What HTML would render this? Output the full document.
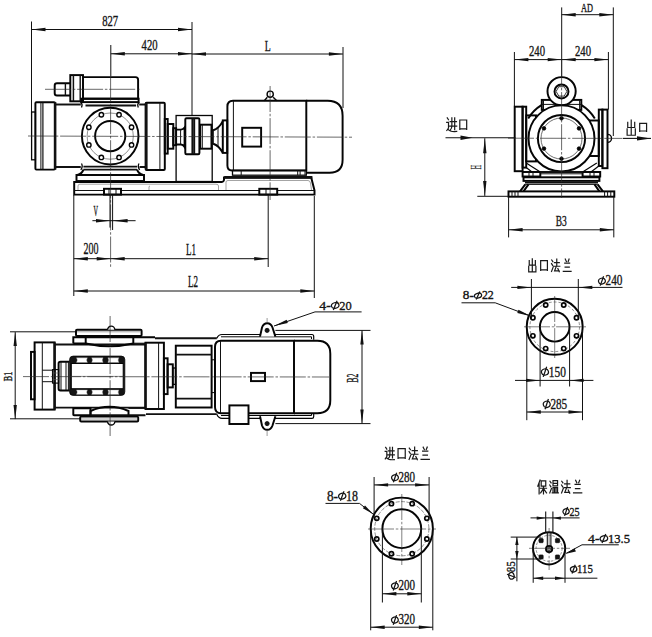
<!DOCTYPE html>
<html><head><meta charset="utf-8"><style>
html,body{margin:0;padding:0;background:#fff;width:652px;height:637px;overflow:hidden}
svg{display:block}
text{font-family:"Liberation Serif",serif;fill:#151515;stroke:#151515;stroke-width:0.35}
</style></head><body>
<svg width="652" height="637" viewBox="0 0 652 637">
<rect width="652" height="637" fill="#fff"/>
<line x1="31.5" y1="21.5" x2="31.5" y2="112" stroke="#111" stroke-width="1.0"/>
<line x1="192" y1="22" x2="192" y2="115.6" stroke="#111" stroke-width="1.0"/>
<line x1="110.8" y1="45" x2="110.8" y2="76" stroke="#111" stroke-width="1.0"/>
<line x1="343" y1="47" x2="343" y2="108" stroke="#111" stroke-width="1.0"/>
<line x1="31.5" y1="29.5" x2="192" y2="29.5" stroke="#111" stroke-width="1.0"/>
<path d="M31.50 29.50 L45.50 27.80 L45.50 31.20 Z" fill="#111"/>
<path d="M192.00 29.50 L178.00 31.20 L178.00 27.80 Z" fill="#111"/>
<line x1="110.8" y1="53.8" x2="192" y2="53.8" stroke="#111" stroke-width="1.0"/>
<path d="M110.80 53.80 L124.80 52.10 L124.80 55.50 Z" fill="#111"/>
<path d="M192.00 53.80 L178.00 55.50 L178.00 52.10 Z" fill="#111"/>
<line x1="192" y1="54" x2="342.9" y2="54" stroke="#111" stroke-width="1.0"/>
<path d="M192.00 54.00 L206.00 52.30 L206.00 55.70 Z" fill="#111"/>
<path d="M342.90 54.00 L328.90 55.70 L328.90 52.30 Z" fill="#111"/>
<g>
<text x="102.20" y="25.80" font-size="14.5" textLength="16.00" lengthAdjust="spacingAndGlyphs">827</text>
</g>
<g>
<text x="141.60" y="50.30" font-size="14.5" textLength="16.00" lengthAdjust="spacingAndGlyphs">420</text>
</g>
<g>
<text x="264.70" y="51.00" font-size="15.5" textLength="6.00" lengthAdjust="spacingAndGlyphs">L</text>
</g>
<rect x="31.6" y="112" width="3.80" height="47.80" rx="0" stroke="#050505" stroke-width="1.3" fill="none"/>
<rect x="35.4" y="102.2" width="19.60" height="67.40" rx="1" stroke="#050505" stroke-width="1.95" fill="none"/>
<line x1="40.9" y1="102.2" x2="40.9" y2="169.6" stroke="#111" stroke-width="1.0"/>
<line x1="42.9" y1="102.2" x2="42.9" y2="169.6" stroke="#111" stroke-width="1.2"/>
<line x1="55.1" y1="102.2" x2="55.1" y2="169.6" stroke="#111" stroke-width="2.6"/>
<line x1="55.6" y1="104.5" x2="80.8" y2="104.5" stroke="#111" stroke-width="1.95"/>
<line x1="139.2" y1="104.5" x2="146" y2="104.5" stroke="#111" stroke-width="1.95"/>
<line x1="55.6" y1="167" x2="80.8" y2="167" stroke="#111" stroke-width="1.95"/>
<line x1="139.5" y1="167" x2="146" y2="167" stroke="#111" stroke-width="1.95"/>
<rect x="145.6" y="102.8" width="19.20" height="67.10" rx="1" stroke="#050505" stroke-width="1.95" fill="none"/>
<line x1="159.9" y1="102.8" x2="159.9" y2="169.9" stroke="#111" stroke-width="1.0"/>
<line x1="146.3" y1="102.8" x2="146.3" y2="169.9" stroke="#111" stroke-width="2.6"/>
<path d="M70.3 83.2 H57 Q54.7 83.2 54.7 85.5 V93.2 Q54.7 95.5 57 95.5 H70.3" stroke="#050505" stroke-width="1.95" fill="none"/>
<line x1="65.4" y1="83.2" x2="65.4" y2="95.5" stroke="#111" stroke-width="1.4"/>
<rect x="70.3" y="75.1" width="12.70" height="26.20" rx="0" stroke="#050505" stroke-width="1.95" fill="none"/>
<line x1="73.4" y1="75.1" x2="73.4" y2="101.3" stroke="#111" stroke-width="1.5"/>
<line x1="80.2" y1="75.1" x2="80.2" y2="101.3" stroke="#111" stroke-width="1.4"/>
<path d="M83 77.1 H135.5 Q138.1 77.1 138.1 79.7 V98.7 H83" stroke="#050505" stroke-width="1.95" fill="none"/>
<line x1="45" y1="89.3" x2="140" y2="89.3" stroke="#2a2a2a" stroke-width="0.7" stroke-dasharray="26 1.8 2.5 1.8"/>
<rect x="81.3" y="98.7" width="57.30" height="3.40" rx="0" stroke="#050505" stroke-width="1.95" fill="none"/>
<path d="M80.5 102.4 Q83 104 81.5 107.4" stroke="#050505" stroke-width="1.3" fill="none"/>
<path d="M139.3 102.4 Q136.8 104 138.3 107.4" stroke="#050505" stroke-width="1.3" fill="none"/>
<line x1="85.5" y1="105.5" x2="136.1" y2="105.5" stroke="#111" stroke-width="1.95"/>
<circle cx="110.2" cy="136.1" r="28.3" stroke="#050505" stroke-width="1.95" fill="none"/>
<circle cx="110.2" cy="136.1" r="23.1" stroke="#444" stroke-width="0.6" fill="none"/>
<circle cx="110.2" cy="136.1" r="15.1" stroke="#050505" stroke-width="1.95" fill="none"/>
<circle cx="119.04" cy="114.76" r="2.2" stroke="#050505" stroke-width="1.4" fill="#fff"/>
<circle cx="131.54" cy="127.26" r="2.2" stroke="#050505" stroke-width="1.4" fill="#fff"/>
<circle cx="131.54" cy="144.94" r="2.2" stroke="#050505" stroke-width="1.4" fill="#fff"/>
<circle cx="119.04" cy="157.44" r="2.2" stroke="#050505" stroke-width="1.4" fill="#fff"/>
<circle cx="101.36" cy="157.44" r="2.2" stroke="#050505" stroke-width="1.4" fill="#fff"/>
<circle cx="88.86" cy="144.94" r="2.2" stroke="#050505" stroke-width="1.4" fill="#fff"/>
<circle cx="88.86" cy="127.26" r="2.2" stroke="#050505" stroke-width="1.4" fill="#fff"/>
<circle cx="101.36" cy="114.76" r="2.2" stroke="#050505" stroke-width="1.4" fill="#fff"/>
<path d="M81.5 163.5 Q83.2 166.5 80.8 169.8" stroke="#050505" stroke-width="1.3" fill="none"/>
<path d="M139 163.5 Q137.3 166.5 139.7 169.8" stroke="#050505" stroke-width="1.3" fill="none"/>
<line x1="83.4" y1="166.6" x2="137.1" y2="166.6" stroke="#111" stroke-width="1.95"/>
<line x1="83.4" y1="169.6" x2="137.1" y2="169.6" stroke="#111" stroke-width="1.95"/>
<path d="M83.4 169.6 Q82 174 77.3 175" stroke="#050505" stroke-width="1.95" fill="none"/>
<path d="M137.1 169.6 Q138.5 174 143.2 175" stroke="#050505" stroke-width="1.95" fill="none"/>
<rect x="76.5" y="175" width="67.50" height="6.00" rx="0" stroke="#050505" stroke-width="1.95" fill="none"/>
<line x1="76.5" y1="181.2" x2="144" y2="181.2" stroke="#111" stroke-width="2.6"/>
<path d="M74.2 182 H222 Q223.5 182 224 180 V177.5 H311.2 L314.5 190.4 V194.6 H74.2 Z" stroke="#050505" stroke-width="1.95" fill="none"/>
<line x1="224.2" y1="177.4" x2="312.4" y2="177.4" stroke="#111" stroke-width="2.6"/>
<line x1="74.2" y1="190.5" x2="104" y2="190.5" stroke="#111" stroke-width="1.0"/>
<line x1="121" y1="190.5" x2="259.3" y2="190.5" stroke="#111" stroke-width="1.0"/>
<line x1="277.2" y1="190.5" x2="314.5" y2="190.5" stroke="#111" stroke-width="1.0"/>
<path d="M78 190 V186 Q78 184.2 80 184.2 H216 Q218.5 184.2 218.5 186 V190" stroke="#666" stroke-width="0.6" fill="none"/>
<path d="M149 190 V187 Q149 186 150 186" stroke="#666" stroke-width="0.6" fill="none"/>
<path d="M226 190 V182 Q226 180.5 228 180.5 H308 Q310 180.5 310.5 183 L311.5 190" stroke="#666" stroke-width="0.6" fill="none"/>
<rect x="104" y="188.8" width="17.00" height="5.80" rx="0" stroke="#050505" stroke-width="1.95" fill="none"/>
<line x1="109" y1="189" x2="109" y2="195.2" stroke="#111" stroke-width="1.0"/>
<line x1="116" y1="189" x2="116" y2="195.2" stroke="#111" stroke-width="1.0"/>
<rect x="259.3" y="188.8" width="17.90" height="5.80" rx="0" stroke="#050505" stroke-width="1.95" fill="none"/>
<line x1="266" y1="189" x2="266" y2="195.2" stroke="#111" stroke-width="1.0"/>
<rect x="164.8" y="119" width="2.90" height="34.60" rx="0" stroke="#050505" stroke-width="1.95" fill="none"/>
<rect x="167.7" y="124" width="5.60" height="24.70" rx="0" stroke="#050505" stroke-width="1.95" fill="none"/>
<rect x="173.3" y="128.2" width="2.80" height="17.00" rx="0" stroke="#050505" stroke-width="1.95" fill="none"/>
<rect x="176.1" y="115.5" width="36.10" height="66.00" rx="0" stroke="#050505" stroke-width="1.3" fill="none"/>
<path d="M176.1 129.6 H181 Q183 129.6 184.6 127.5 V147 Q183 144.4 181 144.4 H176.1" stroke="#050505" stroke-width="1.95" fill="none"/>
<line x1="180.6" y1="129.6" x2="180.6" y2="144.4" stroke="#111" stroke-width="1.0"/>
<rect x="185.3" y="118.3" width="14.10" height="36.00" rx="1.2" stroke="#050505" stroke-width="1.95" fill="none"/>
<line x1="192.4" y1="118.3" x2="192.4" y2="154.3" stroke="#111" stroke-width="1.95"/>
<line x1="194.2" y1="118.3" x2="194.2" y2="154.3" stroke="#111" stroke-width="1.95"/>
<rect x="200.2" y="124.7" width="11.30" height="24.00" rx="0" stroke="#050505" stroke-width="1.95" fill="none"/>
<line x1="202.3" y1="124.7" x2="202.3" y2="148.7" stroke="#111" stroke-width="1.0"/>
<line x1="199.4" y1="126" x2="200.2" y2="126" stroke="#111" stroke-width="1.0"/>
<line x1="199.4" y1="147.4" x2="200.2" y2="147.4" stroke="#111" stroke-width="1.0"/>
<rect x="211.5" y="130.3" width="1.70" height="13.40" rx="0" stroke="#050505" stroke-width="1.2" fill="none"/>
<path d="M213.2 130.3 Q219 128.5 222.8 121.1 M213.2 143.7 Q219 145.5 222.8 152.9" stroke="#050505" stroke-width="1.95" fill="none"/>
<line x1="218" y1="127.8" x2="218" y2="146.2" stroke="#111" stroke-width="1.0"/>
<rect x="222.8" y="120.4" width="4.40" height="32.50" rx="0" stroke="#050505" stroke-width="1.95" fill="none"/>
<path d="M306.3 100.8 H233 Q227.4 100.8 227.4 106.5 V165.5 Q227.4 170.4 232 170.4 H306.3 Z" stroke="#050505" stroke-width="1.95" fill="none"/>
<line x1="233.4" y1="101" x2="233.4" y2="170.4" stroke="#111" stroke-width="1.0"/>
<path d="M306.1 100.7 H327.6 Q342.6 100.7 342.6 115.7 V159.7 Q342.6 172.7 329.6 172.7 H306.1" stroke="#050505" stroke-width="1.95" fill="none"/>
<rect x="242.2" y="127.8" width="18.90" height="18.80" rx="0" stroke="#050505" stroke-width="1.95" fill="none"/>
<circle cx="270.2" cy="94.2" r="3.1" stroke="#050505" stroke-width="1.4" fill="none"/>
<path d="M264.3 100.7 L267.3 97.2 M273.2 97.2 L276.8 100.7" stroke="#050505" stroke-width="1.4" fill="none"/>
<rect x="232.5" y="170.4" width="73.80" height="4.80" rx="0" stroke="#050505" stroke-width="1.3" fill="none"/>
<line x1="297.7" y1="170.4" x2="297.7" y2="175.2" stroke="#111" stroke-width="1.0"/>
<line x1="300.1" y1="170.4" x2="300.1" y2="175.2" stroke="#111" stroke-width="1.0"/>
<line x1="305" y1="170.4" x2="305" y2="175.2" stroke="#111" stroke-width="1.0"/>
<line x1="241.2" y1="170.4" x2="241.2" y2="175.2" stroke="#111" stroke-width="1.0"/>
<line x1="28" y1="136" x2="352" y2="137.2" stroke="#2a2a2a" stroke-width="0.7" stroke-dasharray="26 1.8 2.5 1.8"/>
<line x1="110.6" y1="76" x2="110.6" y2="268" stroke="#2a2a2a" stroke-width="0.7" stroke-dasharray="26 1.8 2.5 1.8"/>
<line x1="270.1" y1="86" x2="270.1" y2="200" stroke="#2a2a2a" stroke-width="0.7" stroke-dasharray="26 1.8 2.5 1.8"/>
<line x1="110" y1="195" x2="110" y2="227.6" stroke="#111" stroke-width="1.0"/>
<line x1="112.6" y1="195" x2="112.6" y2="230" stroke="#111" stroke-width="1.0"/>
<line x1="92.4" y1="220.7" x2="135.6" y2="220.7" stroke="#111" stroke-width="1.0"/>
<path d="M110.00 220.70 L96.00 222.40 L96.00 219.00 Z" fill="#111"/>
<path d="M112.60 220.70 L127.60 219.00 L127.60 222.40 Z" fill="#111"/>
<g>
<text x="93.55" y="215.60" font-size="13.6" textLength="4.50" lengthAdjust="spacingAndGlyphs">V</text>
</g>
<line x1="73.8" y1="195" x2="73.8" y2="296" stroke="#111" stroke-width="1.0"/>
<line x1="314.3" y1="196" x2="314.3" y2="298" stroke="#111" stroke-width="1.0"/>
<line x1="268.2" y1="195" x2="268.2" y2="267" stroke="#111" stroke-width="1.0"/>
<line x1="73.8" y1="258.7" x2="110.7" y2="258.7" stroke="#111" stroke-width="1.0"/>
<path d="M73.80 258.70 L87.80 257.00 L87.80 260.40 Z" fill="#111"/>
<path d="M110.70 258.70 L96.70 260.40 L96.70 257.00 Z" fill="#111"/>
<line x1="110.7" y1="258.7" x2="268.2" y2="258.7" stroke="#111" stroke-width="1.0"/>
<path d="M110.70 258.70 L124.70 257.00 L124.70 260.40 Z" fill="#111"/>
<path d="M268.20 258.70 L254.20 260.40 L254.20 257.00 Z" fill="#111"/>
<line x1="73.8" y1="291" x2="314.3" y2="291" stroke="#111" stroke-width="1.0"/>
<path d="M73.80 291.00 L87.80 289.30 L87.80 292.70 Z" fill="#111"/>
<path d="M314.30 291.00 L300.30 292.70 L300.30 289.30 Z" fill="#111"/>
<g>
<text x="83.50" y="254.40" font-size="15.8" textLength="15.00" lengthAdjust="spacingAndGlyphs">200</text>
</g>
<g>
<text x="186.00" y="255.00" font-size="16.3" textLength="10.00" lengthAdjust="spacingAndGlyphs">L1</text>
</g>
<g>
<text x="188.00" y="286.60" font-size="15.7" textLength="10.00" lengthAdjust="spacingAndGlyphs">L2</text>
</g>
<line x1="561.7" y1="7.4" x2="561.7" y2="77" stroke="#111" stroke-width="1.0"/>
<line x1="613.3" y1="7.4" x2="613.3" y2="136" stroke="#111" stroke-width="1.0"/>
<line x1="561.7" y1="14.7" x2="613.3" y2="14.7" stroke="#111" stroke-width="1.0"/>
<path d="M561.70 14.70 L575.70 13.00 L575.70 16.40 Z" fill="#111"/>
<path d="M613.30 14.70 L599.30 16.40 L599.30 13.00 Z" fill="#111"/>
<g>
<text x="581.00" y="11.50" font-size="12.6" textLength="12.00" lengthAdjust="spacingAndGlyphs">AD</text>
</g>
<line x1="514.4" y1="52" x2="514.4" y2="106" stroke="#111" stroke-width="1.0"/>
<line x1="608.4" y1="52" x2="608.4" y2="109.5" stroke="#111" stroke-width="1.0"/>
<line x1="514.4" y1="59.6" x2="561.7" y2="59.6" stroke="#111" stroke-width="1.0"/>
<path d="M514.40 59.60 L528.40 57.90 L528.40 61.30 Z" fill="#111"/>
<path d="M561.70 59.60 L547.70 61.30 L547.70 57.90 Z" fill="#111"/>
<line x1="561.7" y1="59.6" x2="608.4" y2="59.6" stroke="#111" stroke-width="1.0"/>
<path d="M561.70 59.60 L575.70 57.90 L575.70 61.30 Z" fill="#111"/>
<path d="M608.40 59.60 L594.40 61.30 L594.40 57.90 Z" fill="#111"/>
<g>
<text x="529.00" y="56.20" font-size="14.2" textLength="16.00" lengthAdjust="spacingAndGlyphs">240</text>
</g>
<g>
<text x="575.00" y="56.20" font-size="14.2" textLength="16.00" lengthAdjust="spacingAndGlyphs">240</text>
</g>
<path d="M528.2 118.6 A38.6 38.6 0 0 1 594.8 118.6" stroke="#050505" stroke-width="1.95" fill="none"/>
<rect x="541.8" y="99.9" width="39.50" height="10.00" rx="0" stroke="#050505" stroke-width="1.95" fill="#fff"/>
<line x1="541.8" y1="104.4" x2="581.3" y2="104.4" stroke="#111" stroke-width="1.0"/>
<line x1="543.5" y1="99.9" x2="543.5" y2="109.9" stroke="#111" stroke-width="1.0"/>
<line x1="579.6" y1="99.9" x2="579.6" y2="109.9" stroke="#111" stroke-width="1.0"/>
<circle cx="561.6" cy="91.2" r="14.1" stroke="#050505" stroke-width="1.95" fill="#fff"/>
<circle cx="561.5" cy="91.4" r="7" stroke="#050505" stroke-width="1.95" fill="none"/>
<path d="M558.8 86.7 L564.2 86.7 L566.9 91.4 L564.2 96.1 L558.8 96.1 L556.1 91.4 Z" stroke="#050505" stroke-width="0.8" fill="none"/>
<rect x="514.7" y="106.7" width="7.90" height="64.50" rx="0" stroke="#050505" stroke-width="1.95" fill="none"/>
<rect x="522.6" y="106.7" width="3.60" height="60.90" rx="0" stroke="#050505" stroke-width="1.95" fill="none"/>
<rect x="526.2" y="115.4" width="9.80" height="46.00" rx="0" stroke="#050505" stroke-width="1.95" fill="none"/>
<rect x="602.4" y="109.6" width="5.10" height="58.60" rx="0" stroke="#050505" stroke-width="1.95" fill="none"/>
<rect x="598.8" y="109.6" width="3.60" height="56.40" rx="0" stroke="#050505" stroke-width="1.95" fill="none"/>
<rect x="588" y="120.5" width="10.80" height="35.50" rx="0" stroke="#050505" stroke-width="1.95" fill="none"/>
<path d="M607.5 134.4 A4 4 0 0 1 607.5 142.4" stroke="#050505" stroke-width="1.4" fill="none"/>
<circle cx="561.5" cy="138.4" r="33" stroke="#050505" stroke-width="1.95" fill="#fff"/>
<circle cx="561.5" cy="138.5" r="23.6" stroke="#050505" stroke-width="1.95" fill="none"/>
<circle cx="561.5" cy="138.5" r="20.5" stroke="#333" stroke-width="0.7" fill="none"/>
<circle cx="561.5" cy="118.3" r="1.8" stroke="#050505" stroke-width="0.8" fill="#050505"/>
<circle cx="578.99" cy="128.4" r="1.8" stroke="#050505" stroke-width="0.8" fill="#050505"/>
<circle cx="578.99" cy="148.6" r="1.8" stroke="#050505" stroke-width="0.8" fill="#050505"/>
<circle cx="561.5" cy="158.7" r="1.8" stroke="#050505" stroke-width="0.8" fill="#050505"/>
<circle cx="544.01" cy="148.6" r="1.8" stroke="#050505" stroke-width="0.8" fill="#050505"/>
<circle cx="544.01" cy="128.4" r="1.8" stroke="#050505" stroke-width="0.8" fill="#050505"/>
<path d="M526.2 163 L540.3 172 M526.2 167.6 L532 172" stroke="#050505" stroke-width="1.2" fill="none"/>
<path d="M596.8 163 L582.6 172 M598.8 166 L591 172" stroke="#050505" stroke-width="1.2" fill="none"/>
<rect x="522.6" y="172" width="17.70" height="4.50" rx="0" stroke="#050505" stroke-width="1.95" fill="none"/>
<rect x="582.6" y="172" width="17.60" height="4.50" rx="0" stroke="#050505" stroke-width="1.95" fill="none"/>
<line x1="529" y1="172" x2="529" y2="176.5" stroke="#111" stroke-width="1.0"/>
<line x1="533" y1="172" x2="533" y2="176.5" stroke="#111" stroke-width="1.0"/>
<line x1="590" y1="172" x2="590" y2="176.5" stroke="#111" stroke-width="1.0"/>
<line x1="594" y1="172" x2="594" y2="176.5" stroke="#111" stroke-width="1.0"/>
<line x1="540.3" y1="172" x2="582.6" y2="172" stroke="#111" stroke-width="1.95"/>
<line x1="540.3" y1="173.8" x2="582.6" y2="173.8" stroke="#111" stroke-width="1.0"/>
<rect x="523.5" y="177.3" width="75.90" height="3.60" rx="0" stroke="#050505" stroke-width="1.95" fill="none"/>
<line x1="525" y1="182.6" x2="598" y2="182.6" stroke="#111" stroke-width="1.95"/>
<line x1="525.3" y1="184.4" x2="597.6" y2="184.4" stroke="#111" stroke-width="1.0"/>
<path d="M520 191.4 L525.3 184.4 M523.5 191.4 L528.5 184.4 M602.9 191.4 L597.6 184.4 M599.4 191.4 L594.5 184.4" stroke="#050505" stroke-width="1.95" fill="none"/>
<rect x="508.5" y="191.4" width="105.80" height="5.30" rx="0" stroke="#050505" stroke-width="1.95" fill="none"/>
<line x1="512" y1="191.4" x2="512" y2="196.7" stroke="#111" stroke-width="1.0"/>
<line x1="515" y1="191.4" x2="515" y2="196.7" stroke="#111" stroke-width="1.0"/>
<line x1="518" y1="191.4" x2="518" y2="196.7" stroke="#111" stroke-width="1.0"/>
<line x1="604.6" y1="191.4" x2="604.6" y2="196.7" stroke="#111" stroke-width="1.0"/>
<line x1="607.6" y1="191.4" x2="607.6" y2="196.7" stroke="#111" stroke-width="1.0"/>
<line x1="610.8" y1="191.4" x2="610.8" y2="196.7" stroke="#111" stroke-width="1.0"/>
<line x1="508" y1="138.2" x2="622" y2="138.4" stroke="#2a2a2a" stroke-width="0.7" stroke-dasharray="26 1.8 2.5 1.8"/>
<line x1="561.6" y1="60" x2="561.6" y2="198" stroke="#2a2a2a" stroke-width="0.7" stroke-dasharray="26 1.8 2.5 1.8"/>
<line x1="484.8" y1="138.2" x2="484.8" y2="195.9" stroke="#111" stroke-width="1.0"/>
<path d="M484.80 138.20 L486.50 153.20 L483.10 153.20 Z" fill="#111"/>
<path d="M484.80 195.90 L483.10 180.90 L486.50 180.90 Z" fill="#111"/>
<line x1="477.3" y1="196.3" x2="508.6" y2="196.3" stroke="#111" stroke-width="1.0"/>
<g transform="translate(476 167.1) rotate(-90)">
<g>
<text x="-2.10" y="4.80" font-size="14.2" textLength="4.20" lengthAdjust="spacingAndGlyphs">H</text>
</g>
</g>
<line x1="445.5" y1="137.8" x2="515.4" y2="137.8" stroke="#111" stroke-width="1.1"/>
<path d="M472.50 137.80 L460.50 140.00 L460.50 135.60 Z" fill="#111"/>
<g stroke="#1a1a1a" stroke-width="1.2" fill="none" stroke-linecap="square"><path transform="translate(446.40 116.60) scale(1.050 1.580)" d="M0.8 0.8 L2 2 M0.3 3.6 H2 V7.2 L0.4 8.8 M1.6 8 Q3.5 9.8 9.8 9.4 M3.6 3.2 H9.6 M3.2 6 H9.8 M5.2 0.8 V6 Q5.2 7.5 3.8 8.4 M7.9 0.8 V8.2" vector-effect="non-scaling-stroke"/></g>
<g stroke="#1a1a1a" stroke-width="1.2" fill="none" stroke-linecap="square"><path transform="translate(458.50 117.70) scale(0.920 1.360)" d="M1.4 1.7 V8.6 M1.4 1.7 H8.9 V8.6 M1.4 8.2 H8.9" vector-effect="non-scaling-stroke"/></g>
<line x1="622.7" y1="138.4" x2="651" y2="138.4" stroke="#111" stroke-width="1.1"/>
<path d="M651.00 138.40 L637.00 140.60 L637.00 136.20 Z" fill="#111"/>
<g stroke="#1a1a1a" stroke-width="1.2" fill="none" stroke-linecap="square"><path transform="translate(626.10 119.70) scale(1.025 1.620)" d="M5 0.3 V9.3 M1.6 1.6 V4.8 H8.4 V1.6 M1 5.6 V9.6 H9 V5.6" vector-effect="non-scaling-stroke"/></g>
<g stroke="#1a1a1a" stroke-width="1.2" fill="none" stroke-linecap="square"><path transform="translate(638.40 121.40) scale(0.920 1.170)" d="M1.4 1.7 V8.6 M1.4 1.7 H8.9 V8.6 M1.4 8.2 H8.9" vector-effect="non-scaling-stroke"/></g>
<line x1="508.6" y1="196.5" x2="508.6" y2="237.4" stroke="#111" stroke-width="1.0"/>
<line x1="613.8" y1="196.5" x2="613.8" y2="237.4" stroke="#111" stroke-width="1.0"/>
<line x1="508.6" y1="229.8" x2="613.8" y2="229.8" stroke="#111" stroke-width="1.0"/>
<path d="M508.60 229.80 L522.60 228.10 L522.60 231.50 Z" fill="#111"/>
<path d="M613.80 229.80 L599.80 231.50 L599.80 228.10 Z" fill="#111"/>
<g>
<text x="555.70" y="225.50" font-size="13.6" textLength="11.00" lengthAdjust="spacingAndGlyphs">B3</text>
</g>
<line x1="15.2" y1="332.1" x2="15.2" y2="419.1" stroke="#111" stroke-width="1.0"/>
<path d="M15.20 332.10 L16.90 346.10 L13.50 346.10 Z" fill="#111"/>
<path d="M15.20 419.10 L13.50 405.10 L16.90 405.10 Z" fill="#111"/>
<line x1="10" y1="331.8" x2="76" y2="331.8" stroke="#111" stroke-width="1.0"/>
<line x1="10" y1="418.8" x2="80.2" y2="418.8" stroke="#111" stroke-width="1.0"/>
<g transform="translate(7.7 376.5) rotate(-90)">
<g>
<text x="-4.75" y="4.30" font-size="12.7" textLength="9.50" lengthAdjust="spacingAndGlyphs">B1</text>
</g>
</g>
<rect x="31" y="351.9" width="3.60" height="47.40" rx="0" stroke="#050505" stroke-width="1.95" fill="none"/>
<rect x="34.6" y="342.4" width="20.00" height="67.20" rx="0" stroke="#050505" stroke-width="1.95" fill="none"/>
<line x1="42.3" y1="342.4" x2="42.3" y2="409.6" stroke="#111" stroke-width="1.0"/>
<line x1="54.6" y1="342.4" x2="54.6" y2="409.6" stroke="#111" stroke-width="2.4"/>
<line x1="54.6" y1="344.4" x2="145.5" y2="344.4" stroke="#111" stroke-width="1.95"/>
<line x1="54.6" y1="407.6" x2="145.5" y2="407.6" stroke="#111" stroke-width="1.95"/>
<rect x="145.5" y="342.7" width="18.40" height="66.30" rx="0" stroke="#050505" stroke-width="1.95" fill="none"/>
<line x1="145.5" y1="342.7" x2="145.5" y2="409" stroke="#111" stroke-width="2.4"/>
<line x1="158.6" y1="342.7" x2="158.6" y2="409" stroke="#111" stroke-width="1.0"/>
<rect x="163.9" y="358.3" width="3.70" height="35.80" rx="0" stroke="#050505" stroke-width="1.95" fill="none"/>
<rect x="167.6" y="364.3" width="5.20" height="23.10" rx="0" stroke="#050505" stroke-width="1.95" fill="none"/>
<rect x="172.8" y="368" width="2.70" height="16.40" rx="0" stroke="#050505" stroke-width="1.3" fill="none"/>
<rect x="76" y="329.7" width="65.60" height="6.30" rx="1" stroke="#050505" stroke-width="1.95" fill="none"/>
<line x1="77" y1="331.8" x2="140.6" y2="331.8" stroke="#666" stroke-width="0.6"/>
<path d="M107.6 329.7 A3.6 3.6 0 0 1 114.8 329.7" stroke="#050505" stroke-width="1.4" fill="#fff"/>
<path d="M73.3 343.5 V337.3 H155" stroke="#050505" stroke-width="1.95" fill="none"/>
<path d="M85.7 337.3 V343.5 H73.3" stroke="#050505" stroke-width="1.95" fill="none"/>
<path d="M85.7 343.5 Q109.5 349 133.3 343.5 V337.3" stroke="#050505" stroke-width="1.95" fill="none"/>
<line x1="133.3" y1="343.3" x2="145.5" y2="343.3" stroke="#111" stroke-width="1.2"/>
<path d="M73.3 408.3 V414.8 Q73.3 415.2 74 415.2 H90.5 V408.3 Z" stroke="#050505" stroke-width="1.95" fill="none"/>
<path d="M90.5 415.2 V411 Q109.5 402.5 128.5 411 V415.2" stroke="#050505" stroke-width="1.95" fill="none"/>
<line x1="90.5" y1="415.2" x2="145.5" y2="415.2" stroke="#111" stroke-width="1.95"/>
<line x1="128.5" y1="408.3" x2="145.5" y2="408.3" stroke="#111" stroke-width="1.2"/>
<rect x="80.2" y="416.6" width="58.00" height="4.80" rx="1" stroke="#050505" stroke-width="1.95" fill="none"/>
<line x1="81" y1="419" x2="137.5" y2="419" stroke="#666" stroke-width="0.6"/>
<path d="M107.6 421.4 A3.6 3.6 0 0 0 114.8 421.4" stroke="#050505" stroke-width="1.4" fill="#fff"/>
<line x1="155" y1="338.2" x2="216.8" y2="338.2" stroke="#111" stroke-width="1.95"/>
<path d="M216.8 338.2 Q218.5 334.5 222 334.5 H312 Q313.7 334.5 313.7 336.5 V339.7" stroke="#050505" stroke-width="1.2" fill="none"/>
<path d="M221 336.8 H311.5 V339" stroke="#050505" stroke-width="1.0" fill="none"/>
<line x1="146" y1="414.1" x2="216.8" y2="414.1" stroke="#111" stroke-width="1.95"/>
<path d="M216.8 414.3 Q218.5 418.4 222 418.4 H312 Q313.7 418.4 313.7 416.4 V413" stroke="#050505" stroke-width="1.2" fill="none"/>
<path d="M221 415.5 H311.5 V413.5" stroke="#050505" stroke-width="1.0" fill="none"/>
<rect x="69.6" y="356.1" width="55.20" height="39.30" rx="3.5" stroke="#050505" stroke-width="0.8" fill="#151515"/>
<rect x="71.3" y="363.5" width="51.90" height="25.20" rx="0" stroke="#050505" stroke-width="1.0" fill="#fff"/>
<path d="M76.5 357.8 H87.4 Q85.80000000000001 360.15 87.4 362.5 H76.5 Q78.1 360.15 76.5 357.8 Z" stroke="#888" stroke-width="0.4" fill="#fff"/>
<path d="M76.5 389.9 H87.4 Q85.80000000000001 392.2 87.4 394.5 H76.5 Q78.1 392.2 76.5 389.9 Z" stroke="#888" stroke-width="0.4" fill="#fff"/>
<path d="M91.7 357.8 H103.1 Q101.5 360.15 103.1 362.5 H91.7 Q93.3 360.15 91.7 357.8 Z" stroke="#888" stroke-width="0.4" fill="#fff"/>
<path d="M91.7 389.9 H103.1 Q101.5 392.2 103.1 394.5 H91.7 Q93.3 392.2 91.7 389.9 Z" stroke="#888" stroke-width="0.4" fill="#fff"/>
<path d="M107.9 357.8 H118.9 Q117.30000000000001 360.15 118.9 362.5 H107.9 Q109.5 360.15 107.9 357.8 Z" stroke="#888" stroke-width="0.4" fill="#fff"/>
<path d="M107.9 389.9 H118.9 Q117.30000000000001 392.2 118.9 394.5 H107.9 Q109.5 392.2 107.9 389.9 Z" stroke="#888" stroke-width="0.4" fill="#fff"/>
<line x1="71.3" y1="376.4" x2="123.2" y2="376.4" stroke="#444" stroke-width="0.6"/>
<path d="M69.6 361.7 H60.5 Q58.6 361.7 58.6 363.5 V388.7 Q58.6 390.5 60.5 390.5 H69.6" stroke="#050505" stroke-width="1.95" fill="none"/>
<line x1="61" y1="362" x2="61" y2="390.3" stroke="#111" stroke-width="1.0"/>
<line x1="66" y1="361.7" x2="66" y2="390.5" stroke="#111" stroke-width="1.0"/>
<line x1="68.4" y1="361.7" x2="68.4" y2="390.5" stroke="#111" stroke-width="1.0"/>
<rect x="52.5" y="369.6" width="6.10" height="13.50" rx="0" stroke="#050505" stroke-width="1.1" fill="none"/>
<line x1="52.5" y1="373" x2="58.6" y2="373" stroke="#555" stroke-width="0.6"/>
<line x1="52.5" y1="379.6" x2="58.6" y2="379.6" stroke="#555" stroke-width="0.6"/>
<line x1="42.3" y1="370.2" x2="52.5" y2="370.2" stroke="#111" stroke-width="1.0"/>
<line x1="42.3" y1="381.7" x2="52.5" y2="381.7" stroke="#111" stroke-width="1.0"/>
<rect x="175.8" y="345.7" width="35.80" height="61.80" rx="0" stroke="#050505" stroke-width="1.95" fill="none"/>
<line x1="175.8" y1="354.6" x2="211.6" y2="354.6" stroke="#111" stroke-width="1.95"/>
<line x1="175.8" y1="398.6" x2="211.6" y2="398.6" stroke="#111" stroke-width="1.95"/>
<rect x="211.6" y="359.8" width="3.00" height="32.80" rx="0" stroke="#050505" stroke-width="1.0" fill="none"/>
<path d="M294 340.8 H221 Q215 340.8 215 347 V407 Q215 413.2 221 413.2 H294 Z" stroke="#050505" stroke-width="1.95" fill="none"/>
<line x1="220.5" y1="341" x2="220.5" y2="413" stroke="#111" stroke-width="1.0"/>
<path d="M294 340.8 H317.3 Q330.3 340.8 330.3 353.8 V400.2 Q330.3 413.2 317.3 413.2 H294" stroke="#050505" stroke-width="1.95" fill="none"/>
<rect x="251" y="372.9" width="14.00" height="8.20" rx="0" stroke="#050505" stroke-width="1.95" fill="none"/>
<rect x="229.4" y="405.4" width="19.10" height="18.60" rx="0" stroke="#050505" stroke-width="1.95" fill="#fff"/>
<path d="M260 336.6 L262 327.5 Q263.5 323.2 267.2 323.2 Q271 323.2 272.5 327.5 L275.4 336.6" stroke="#050505" stroke-width="1.95" fill="#fff"/>
<circle cx="267.1" cy="330.4" r="2.1" stroke="#050505" stroke-width="0.8" fill="#151515"/>
<path d="M260 416.3 L262 425.5 Q263.5 429.8 267.2 429.8 Q271 429.8 272.5 425.5 L275.4 416.3" stroke="#050505" stroke-width="1.95" fill="#fff"/>
<circle cx="267.1" cy="423.6" r="2.1" stroke="#050505" stroke-width="0.8" fill="#151515"/>
<line x1="23" y1="376.6" x2="329" y2="377" stroke="#2a2a2a" stroke-width="0.7" stroke-dasharray="26 1.8 2.5 1.8"/>
<line x1="110.1" y1="316" x2="110.1" y2="436" stroke="#2a2a2a" stroke-width="0.7" stroke-dasharray="26 1.8 2.5 1.8"/>
<line x1="267.1" y1="318" x2="267.1" y2="323" stroke="#555" stroke-width="0.6"/>
<line x1="267.1" y1="430" x2="267.1" y2="436" stroke="#555" stroke-width="0.6"/>
<line x1="362" y1="330.5" x2="362" y2="423.6" stroke="#111" stroke-width="1.0"/>
<path d="M362.00 330.50 L363.70 344.50 L360.30 344.50 Z" fill="#111"/>
<path d="M362.00 423.60 L360.30 409.60 L363.70 409.60 Z" fill="#111"/>
<line x1="275.4" y1="330.4" x2="370.5" y2="330.4" stroke="#111" stroke-width="1.0"/>
<line x1="275.4" y1="423.6" x2="370.5" y2="423.6" stroke="#111" stroke-width="1.0"/>
<g transform="translate(352.8 378.2) rotate(-90)">
<g>
<text x="-4.55" y="5.35" font-size="15.8" textLength="9.10" lengthAdjust="spacingAndGlyphs">B2</text>
</g>
</g>
<g>
<text x="319.25" y="309.60" font-size="13.3" textLength="11.54" lengthAdjust="spacingAndGlyphs">4-</text>
<ellipse cx="335.20" cy="305.46" rx="3.82" ry="2.79" stroke="#151515" stroke-width="1.25" fill="none" transform="rotate(-15 335.20 305.46)"/>
<line x1="333.34" y1="309.90" x2="337.07" y2="300.80" stroke="#151515" stroke-width="1.25"/>
<text x="339.27" y="309.60" font-size="13.3" textLength="12.48" lengthAdjust="spacingAndGlyphs">20</text>
</g>
<line x1="315" y1="311.9" x2="361.6" y2="311.9" stroke="#111" stroke-width="1.0"/>
<line x1="315" y1="311.9" x2="274" y2="326" stroke="#111" stroke-width="1.0"/>
<path d="M274.00 326.00 L286.69 319.84 L287.79 323.05 Z" fill="#111"/>
<g stroke="#1a1a1a" stroke-width="1.2" fill="none" stroke-linecap="square"><path transform="translate(527.80 258.30) scale(0.900 1.420)" d="M5 0.3 V9.3 M1.6 1.6 V4.8 H8.4 V1.6 M1 5.6 V9.6 H9 V5.6" vector-effect="non-scaling-stroke"/><path transform="translate(539.40 258.30) scale(0.900 1.420)" d="M1.4 1.7 V8.6 M1.4 1.7 H8.9 V8.6 M1.4 8.2 H8.9" vector-effect="non-scaling-stroke"/><path transform="translate(551.00 258.30) scale(0.900 1.420)" d="M0.8 1.2 L2 2.3 M0.6 3.8 L1.8 5 M0.6 9.2 L2.4 6.2 M3.8 3 H9.2 M6.4 0.6 V5.6 M3.2 5.6 H9.8 M5.8 5.8 L4 8.8 H9 M7.6 7.2 L9.2 9.4" vector-effect="non-scaling-stroke"/><path transform="translate(562.60 258.30) scale(0.900 1.420)" d="M3 0.6 L4.2 2.2 M7.2 0.6 L6.2 2.2 M2.4 3.4 H7.8 M2.8 6.2 H7.4 M0.8 9.2 H9.4" vector-effect="non-scaling-stroke"/></g>
<circle cx="554.7" cy="326.8" r="28" stroke="#050505" stroke-width="1.95" fill="none"/>
<circle cx="554.7" cy="326.8" r="14.8" stroke="#050505" stroke-width="1.95" fill="none"/>
<circle cx="554.7" cy="326.8" r="24.8" stroke="#444" stroke-width="0.6" fill="none" stroke-dasharray="3 2"/>
<circle cx="563.73" cy="305.0" r="2.1" stroke="#050505" stroke-width="1.7" fill="none"/>
<circle cx="576.5" cy="317.77" r="2.1" stroke="#050505" stroke-width="1.7" fill="none"/>
<circle cx="576.5" cy="335.83" r="2.1" stroke="#050505" stroke-width="1.7" fill="none"/>
<circle cx="563.73" cy="348.6" r="2.1" stroke="#050505" stroke-width="1.7" fill="none"/>
<circle cx="545.67" cy="348.6" r="2.1" stroke="#050505" stroke-width="1.7" fill="none"/>
<circle cx="532.9" cy="335.83" r="2.1" stroke="#050505" stroke-width="1.7" fill="none"/>
<circle cx="532.9" cy="317.77" r="2.1" stroke="#050505" stroke-width="1.7" fill="none"/>
<circle cx="545.67" cy="305.0" r="2.1" stroke="#050505" stroke-width="1.7" fill="none"/>
<line x1="524" y1="326.8" x2="586" y2="326.8" stroke="#2a2a2a" stroke-width="0.6" stroke-dasharray="26 1.8 2.5 1.8"/>
<line x1="554.7" y1="296" x2="554.7" y2="358" stroke="#2a2a2a" stroke-width="0.6" stroke-dasharray="26 1.8 2.5 1.8"/>
<line x1="531.4" y1="279" x2="531.4" y2="318" stroke="#111" stroke-width="1.0"/>
<line x1="578.3" y1="279" x2="578.3" y2="318" stroke="#111" stroke-width="1.0"/>
<line x1="511.2" y1="287.4" x2="622.5" y2="287.4" stroke="#111" stroke-width="1.0"/>
<path d="M531.40 287.40 L517.40 289.10 L517.40 285.70 Z" fill="#111"/>
<path d="M578.30 287.40 L592.30 285.70 L592.30 289.10 Z" fill="#111"/>
<g>
<ellipse cx="601.92" cy="281.02" rx="3.44" ry="2.88" stroke="#151515" stroke-width="1.25" fill="none" transform="rotate(-15 601.92 281.02)"/>
<line x1="600.24" y1="285.60" x2="603.61" y2="276.20" stroke="#151515" stroke-width="1.25"/>
<text x="605.59" y="285.30" font-size="13.8" textLength="16.86" lengthAdjust="spacingAndGlyphs">240</text>
</g>
<g>
<text x="462.80" y="299.20" font-size="11.5" textLength="11.01" lengthAdjust="spacingAndGlyphs">8-</text>
<ellipse cx="478.02" cy="295.61" rx="3.64" ry="2.42" stroke="#151515" stroke-width="1.25" fill="none" transform="rotate(-15 478.02 295.61)"/>
<line x1="476.24" y1="299.50" x2="479.80" y2="291.60" stroke="#151515" stroke-width="1.25"/>
<text x="481.90" y="299.20" font-size="11.5" textLength="11.90" lengthAdjust="spacingAndGlyphs">22</text>
</g>
<line x1="461.5" y1="302.8" x2="495.2" y2="302.8" stroke="#111" stroke-width="1.0"/>
<line x1="495.2" y1="302.8" x2="531" y2="316.2" stroke="#111" stroke-width="1.0"/>
<path d="M531.00 316.20 L517.29 312.88 L518.48 309.70 Z" fill="#111"/>
<line x1="540.1" y1="328" x2="540.1" y2="386.5" stroke="#111" stroke-width="1.0"/>
<line x1="569.6" y1="328" x2="569.6" y2="386.5" stroke="#111" stroke-width="1.0"/>
<line x1="515" y1="380.4" x2="593.4" y2="380.4" stroke="#111" stroke-width="1.0"/>
<path d="M540.10 380.40 L526.10 382.10 L526.10 378.70 Z" fill="#111"/>
<path d="M569.60 380.40 L583.60 378.70 L583.60 382.10 Z" fill="#111"/>
<g>
<ellipse cx="544.96" cy="372.00" rx="3.51" ry="3.10" stroke="#151515" stroke-width="1.25" fill="none" transform="rotate(-15 544.96 372.00)"/>
<line x1="543.24" y1="376.90" x2="546.67" y2="366.80" stroke="#151515" stroke-width="1.25"/>
<text x="548.70" y="376.60" font-size="14.8" textLength="17.20" lengthAdjust="spacingAndGlyphs">150</text>
</g>
<line x1="526.8" y1="330" x2="526.8" y2="420.2" stroke="#111" stroke-width="1.0"/>
<line x1="582.5" y1="330" x2="582.5" y2="420.2" stroke="#111" stroke-width="1.0"/>
<line x1="526.8" y1="412" x2="582.5" y2="412" stroke="#111" stroke-width="1.0"/>
<path d="M526.80 412.00 L540.80 410.30 L540.80 413.70 Z" fill="#111"/>
<path d="M582.50 412.00 L568.50 413.70 L568.50 410.30 Z" fill="#111"/>
<g>
<ellipse cx="546.72" cy="404.31" rx="3.44" ry="3.16" stroke="#151515" stroke-width="1.25" fill="none" transform="rotate(-15 546.72 404.31)"/>
<line x1="545.04" y1="409.30" x2="548.41" y2="399.00" stroke="#151515" stroke-width="1.25"/>
<text x="550.39" y="409.00" font-size="15.1" textLength="16.86" lengthAdjust="spacingAndGlyphs">285</text>
</g>
<g stroke="#1a1a1a" stroke-width="1.2" fill="none" stroke-linecap="square"><path transform="translate(384.90 446.30) scale(0.960 1.420)" d="M0.8 0.8 L2 2 M0.3 3.6 H2 V7.2 L0.4 8.8 M1.6 8 Q3.5 9.8 9.8 9.4 M3.6 3.2 H9.6 M3.2 6 H9.8 M5.2 0.8 V6 Q5.2 7.5 3.8 8.4 M7.9 0.8 V8.2" vector-effect="non-scaling-stroke"/><path transform="translate(396.70 446.30) scale(0.960 1.420)" d="M1.4 1.7 V8.6 M1.4 1.7 H8.9 V8.6 M1.4 8.2 H8.9" vector-effect="non-scaling-stroke"/><path transform="translate(408.50 446.30) scale(0.960 1.420)" d="M0.8 1.2 L2 2.3 M0.6 3.8 L1.8 5 M0.6 9.2 L2.4 6.2 M3.8 3 H9.2 M6.4 0.6 V5.6 M3.2 5.6 H9.8 M5.8 5.8 L4 8.8 H9 M7.6 7.2 L9.2 9.4" vector-effect="non-scaling-stroke"/><path transform="translate(420.30 446.30) scale(0.960 1.420)" d="M3 0.6 L4.2 2.2 M7.2 0.6 L6.2 2.2 M2.4 3.4 H7.8 M2.8 6.2 H7.4 M0.8 9.2 H9.4" vector-effect="non-scaling-stroke"/></g>
<circle cx="401.8" cy="528.7" r="31.1" stroke="#050505" stroke-width="1.95" fill="none"/>
<circle cx="401.8" cy="528.7" r="19.4" stroke="#050505" stroke-width="1.95" fill="none"/>
<circle cx="401.8" cy="528.7" r="27.1" stroke="#444" stroke-width="0.6" fill="none" stroke-dasharray="4 1.5"/>
<circle cx="412.17" cy="503.66" r="2.1" stroke="#050505" stroke-width="1.7" fill="none"/>
<circle cx="426.84" cy="518.33" r="2.1" stroke="#050505" stroke-width="1.7" fill="none"/>
<circle cx="426.84" cy="539.07" r="2.1" stroke="#050505" stroke-width="1.7" fill="none"/>
<circle cx="412.17" cy="553.74" r="2.1" stroke="#050505" stroke-width="1.7" fill="none"/>
<circle cx="391.43" cy="553.74" r="2.1" stroke="#050505" stroke-width="1.7" fill="none"/>
<circle cx="376.76" cy="539.07" r="2.1" stroke="#050505" stroke-width="1.7" fill="none"/>
<circle cx="376.76" cy="518.33" r="2.1" stroke="#050505" stroke-width="1.7" fill="none"/>
<circle cx="391.43" cy="503.66" r="2.1" stroke="#050505" stroke-width="1.7" fill="none"/>
<line x1="368" y1="529" x2="436" y2="529" stroke="#2a2a2a" stroke-width="0.6" stroke-dasharray="26 1.8 2.5 1.8"/>
<line x1="401.8" y1="494" x2="401.8" y2="565" stroke="#2a2a2a" stroke-width="0.6" stroke-dasharray="26 1.8 2.5 1.8"/>
<line x1="374.1" y1="477" x2="374.1" y2="518" stroke="#111" stroke-width="1.0"/>
<line x1="429.1" y1="477" x2="429.1" y2="518" stroke="#111" stroke-width="1.0"/>
<line x1="374.1" y1="484.9" x2="429.1" y2="484.9" stroke="#111" stroke-width="1.0"/>
<path d="M374.10 484.90 L388.10 483.20 L388.10 486.60 Z" fill="#111"/>
<path d="M429.10 484.90 L415.10 486.60 L415.10 483.20 Z" fill="#111"/>
<g>
<ellipse cx="394.99" cy="477.63" rx="3.37" ry="2.94" stroke="#151515" stroke-width="1.25" fill="none" transform="rotate(-15 394.99 477.63)"/>
<line x1="393.35" y1="482.30" x2="396.64" y2="472.70" stroke="#151515" stroke-width="1.25"/>
<text x="398.59" y="482.00" font-size="14.1" textLength="16.51" lengthAdjust="spacingAndGlyphs">280</text>
</g>
<g>
<text x="327.00" y="500.50" font-size="14.1" textLength="11.01" lengthAdjust="spacingAndGlyphs">8-</text>
<ellipse cx="342.22" cy="496.13" rx="3.64" ry="2.94" stroke="#151515" stroke-width="1.25" fill="none" transform="rotate(-15 342.22 496.13)"/>
<line x1="340.44" y1="500.80" x2="344.00" y2="491.20" stroke="#151515" stroke-width="1.25"/>
<text x="346.10" y="500.50" font-size="14.1" textLength="11.90" lengthAdjust="spacingAndGlyphs">18</text>
</g>
<line x1="325.5" y1="503.4" x2="359.5" y2="503.4" stroke="#111" stroke-width="1.0"/>
<line x1="359.5" y1="503.4" x2="373.4" y2="514.3" stroke="#111" stroke-width="1.0"/>
<path d="M373.40 514.30 L362.91 508.23 L365.01 505.56 Z" fill="#111"/>
<line x1="382.4" y1="529" x2="382.4" y2="602.5" stroke="#111" stroke-width="1.0"/>
<line x1="421.3" y1="529" x2="421.3" y2="602.5" stroke="#111" stroke-width="1.0"/>
<line x1="382.4" y1="593.8" x2="421.3" y2="593.8" stroke="#111" stroke-width="1.0"/>
<path d="M382.40 593.80 L396.40 592.10 L396.40 595.50 Z" fill="#111"/>
<path d="M421.30 593.80 L407.30 595.50 L407.30 592.10 Z" fill="#111"/>
<g>
<ellipse cx="394.89" cy="585.88" rx="3.37" ry="2.91" stroke="#151515" stroke-width="1.25" fill="none" transform="rotate(-15 394.89 585.88)"/>
<line x1="393.25" y1="590.50" x2="396.54" y2="581.00" stroke="#151515" stroke-width="1.25"/>
<text x="398.49" y="590.20" font-size="13.9" textLength="16.51" lengthAdjust="spacingAndGlyphs">200</text>
</g>
<line x1="370.7" y1="529" x2="370.7" y2="630.3" stroke="#111" stroke-width="1.0"/>
<line x1="432.8" y1="529" x2="432.8" y2="630.3" stroke="#111" stroke-width="1.0"/>
<line x1="370.7" y1="627.2" x2="432.8" y2="627.2" stroke="#111" stroke-width="1.0"/>
<path d="M370.70 627.20 L384.70 625.50 L384.70 628.90 Z" fill="#111"/>
<path d="M432.80 627.20 L418.80 628.90 L418.80 625.50 Z" fill="#111"/>
<g>
<ellipse cx="394.89" cy="620.03" rx="3.37" ry="2.94" stroke="#151515" stroke-width="1.25" fill="none" transform="rotate(-15 394.89 620.03)"/>
<line x1="393.25" y1="624.70" x2="396.54" y2="615.10" stroke="#151515" stroke-width="1.25"/>
<text x="398.49" y="624.40" font-size="14.1" textLength="16.51" lengthAdjust="spacingAndGlyphs">320</text>
</g>
<g stroke="#1a1a1a" stroke-width="1.2" fill="none" stroke-linecap="square"><path transform="translate(537.40 479.50) scale(0.950 1.460)" d="M2.8 0.4 L0.4 4.6 M1.8 2.6 V9.8 M4 1 V4.6 H8.8 V1 Z M3.2 6 H9.6 M6.4 4.6 V9.8 M6.2 6.4 L3.4 9.2 M6.6 6.4 L9.6 9.2" vector-effect="non-scaling-stroke"/><path transform="translate(549.20 479.50) scale(0.950 1.460)" d="M0.8 1.2 L2 2.3 M0.6 3.8 L1.8 5 M0.6 9.2 L2.4 6.2 M4 0.8 V4.4 H8.8 V0.8 Z M4 2.6 H8.8 M4 5.6 V9 M4 5.6 H8.8 V9 M5.6 5.6 V9 M7.2 5.6 V9 M3.2 9.2 H9.6" vector-effect="non-scaling-stroke"/><path transform="translate(561.00 479.50) scale(0.950 1.460)" d="M0.8 1.2 L2 2.3 M0.6 3.8 L1.8 5 M0.6 9.2 L2.4 6.2 M3.8 3 H9.2 M6.4 0.6 V5.6 M3.2 5.6 H9.8 M5.8 5.8 L4 8.8 H9 M7.6 7.2 L9.2 9.4" vector-effect="non-scaling-stroke"/><path transform="translate(572.80 479.50) scale(0.950 1.460)" d="M3 0.6 L4.2 2.2 M7.2 0.6 L6.2 2.2 M2.4 3.4 H7.8 M2.8 6.2 H7.4 M0.8 9.2 H9.4" vector-effect="non-scaling-stroke"/></g>
<circle cx="549.1" cy="548.3" r="16.1" stroke="#050505" stroke-width="1.95" fill="none"/>
<circle cx="549.1" cy="548.3" r="13" stroke="#444" stroke-width="0.6" fill="none" stroke-dasharray="2.5 1.5"/>
<line x1="545.7" y1="511.5" x2="545.7" y2="532.5" stroke="#111" stroke-width="1.1"/>
<line x1="552.9" y1="511.5" x2="552.9" y2="532.5" stroke="#111" stroke-width="1.1"/>
<line x1="547.3" y1="532" x2="547.3" y2="546" stroke="#111" stroke-width="1.1"/>
<line x1="550.9" y1="532" x2="550.9" y2="546" stroke="#111" stroke-width="1.1"/>
<circle cx="549.1" cy="549.1" r="3.1" stroke="#050505" stroke-width="1.95" fill="#fff"/>
<circle cx="549.1" cy="549.1" r="1.4" stroke="#050505" stroke-width="0.8" fill="none"/>
<rect x="539.0" y="538.5" width="4.20" height="4.20" rx="0.8" stroke="#050505" stroke-width="0.6" fill="#151515"/>
<rect x="555.4" y="538.5" width="4.20" height="4.20" rx="0.8" stroke="#050505" stroke-width="0.6" fill="#151515"/>
<rect x="539.0" y="554.9" width="4.20" height="4.20" rx="0.8" stroke="#050505" stroke-width="0.6" fill="#151515"/>
<rect x="555.4" y="554.9" width="4.20" height="4.20" rx="0.8" stroke="#050505" stroke-width="0.6" fill="#151515"/>
<line x1="529" y1="548.3" x2="570" y2="548.3" stroke="#2a2a2a" stroke-width="0.6" stroke-dasharray="26 1.8 2.5 1.8"/>
<line x1="549.1" y1="528" x2="549.1" y2="570" stroke="#2a2a2a" stroke-width="0.6" stroke-dasharray="26 1.8 2.5 1.8"/>
<line x1="530.5" y1="517.9" x2="579.6" y2="517.9" stroke="#111" stroke-width="1.0"/>
<path d="M545.70 518.10 L536.70 519.80 L536.70 516.40 Z" fill="#111"/>
<path d="M552.90 518.10 L560.90 516.40 L560.90 519.80 Z" fill="#111"/>
<g>
<ellipse cx="566.08" cy="511.55" rx="3.10" ry="2.73" stroke="#151515" stroke-width="1.25" fill="none" transform="rotate(-15 566.08 511.55)"/>
<line x1="564.56" y1="515.90" x2="567.59" y2="507.00" stroke="#151515" stroke-width="1.25"/>
<text x="569.38" y="515.60" font-size="13.0" textLength="10.12" lengthAdjust="spacingAndGlyphs">25</text>
</g>
<g>
<text x="588.00" y="542.60" font-size="13.0" textLength="11.49" lengthAdjust="spacingAndGlyphs">4-</text>
<ellipse cx="603.89" cy="538.55" rx="3.80" ry="2.73" stroke="#151515" stroke-width="1.25" fill="none" transform="rotate(-15 603.89 538.55)"/>
<line x1="602.03" y1="542.90" x2="605.75" y2="534.00" stroke="#151515" stroke-width="1.25"/>
<text x="607.94" y="542.60" font-size="13.0" textLength="22.06" lengthAdjust="spacingAndGlyphs">13.5</text>
</g>
<line x1="582" y1="544.8" x2="618.8" y2="544.8" stroke="#111" stroke-width="1.0"/>
<line x1="582" y1="544.8" x2="566" y2="553.4" stroke="#111" stroke-width="1.0"/>
<path d="M566.00 553.70 L574.58 548.29 L575.89 551.43 Z" fill="#111"/>
<line x1="510.7" y1="537.1" x2="541" y2="537.1" stroke="#111" stroke-width="1.0"/>
<line x1="510.7" y1="559" x2="541" y2="559" stroke="#111" stroke-width="1.0"/>
<line x1="516.9" y1="537.1" x2="516.9" y2="581.3" stroke="#111" stroke-width="1.0"/>
<path d="M516.90 537.10 L518.60 545.10 L515.20 545.10 Z" fill="#111"/>
<path d="M516.90 559.00 L515.20 551.00 L518.60 551.00 Z" fill="#111"/>
<g transform="translate(511.1 570.5) rotate(-90)">
<g>
<ellipse cx="-5.36" cy="0.34" rx="3.37" ry="2.67" stroke="#151515" stroke-width="1.25" fill="none" transform="rotate(-15 -5.36 0.34)"/>
<line x1="-7.00" y1="4.60" x2="-3.71" y2="-4.10" stroke="#151515" stroke-width="1.25"/>
<text x="-1.76" y="4.30" font-size="12.7" textLength="11.01" lengthAdjust="spacingAndGlyphs">85</text>
</g>
</g>
<line x1="533.2" y1="549" x2="533.2" y2="582.8" stroke="#111" stroke-width="1.0"/>
<line x1="565" y1="549" x2="565" y2="582.8" stroke="#111" stroke-width="1.0"/>
<line x1="533.2" y1="578.2" x2="597.4" y2="578.2" stroke="#111" stroke-width="1.0"/>
<path d="M533.20 578.20 L543.20 576.50 L543.20 579.90 Z" fill="#111"/>
<path d="M565.00 578.20 L555.00 579.90 L555.00 576.50 Z" fill="#111"/>
<g>
<ellipse cx="573.63" cy="569.20" rx="3.23" ry="2.70" stroke="#151515" stroke-width="1.25" fill="none" transform="rotate(-15 573.63 569.20)"/>
<line x1="572.05" y1="573.50" x2="575.21" y2="564.70" stroke="#151515" stroke-width="1.25"/>
<text x="577.07" y="573.20" font-size="12.9" textLength="15.83" lengthAdjust="spacingAndGlyphs">115</text>
</g>
</svg></body></html>
